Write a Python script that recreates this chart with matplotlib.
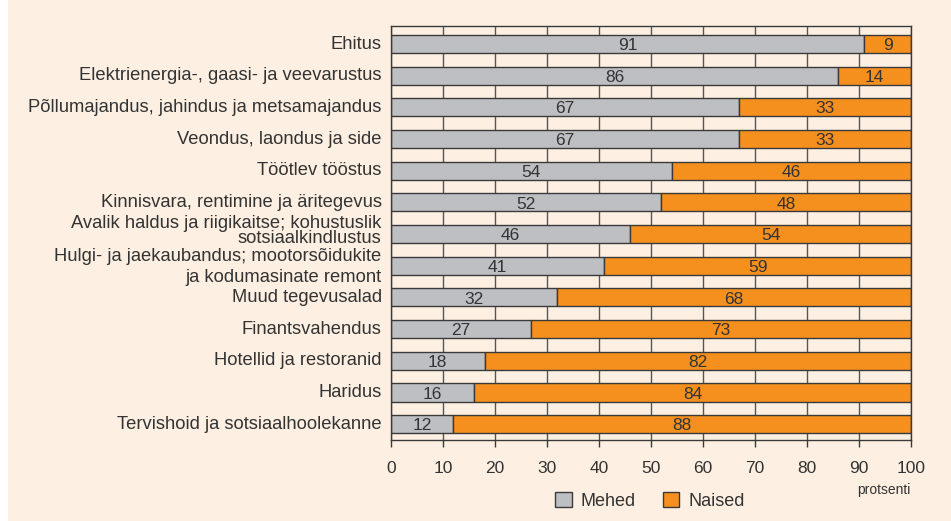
import numpy as np

import matplotlib
matplotlib.use('Agg')
import matplotlib.pyplot as plt
from matplotlib.patches import Patch, Rectangle

plt.rcParams['font.family'] = ['Liberation Sans', 'DejaVu Sans']

categories = [
    'Ehitus',
    'Elektrienergia-, gaasi- ja veevarustus',
    'Põllumajandus, jahindus ja metsamajandus',
    'Veondus, laondus ja side',
    'Töötlev tööstus',
    'Kinnisvara, rentimine ja äritegevus',
    'Avalik haldus ja riigikaitse; kohustuslik\nsotsiaalkindlustus',
    'Hulgi- ja jaekaubandus; mootorsõidukite\nja kodumasinate remont',
    'Muud tegevusalad',
    'Finantsvahendus',
    'Hotellid ja restoranid',
    'Haridus',
    'Tervishoid ja sotsiaalhoolekanne',
]
mehed = [91, 86, 67, 67, 54, 52, 46, 41, 32, 27, 18, 16, 12]
naised = [9, 14, 33, 33, 46, 48, 54, 59, 68, 73, 82, 84, 88]
x_ticks = [0, 10, 20, 30, 40, 50, 60, 70, 80, 90, 100]

bg = '#fdf0e2'
gray = '#bebfc3'
orange = '#f58f1e'
edge = '#3a3a3a'
text_col = '#333333'

fig = plt.figure(figsize=(9.51, 5.21), dpi=100, facecolor=bg)
fig.patches.append(Rectangle((0, 0), 8 / 951, 1, transform=fig.transFigure,
                             facecolor='white', edgecolor='none', zorder=0))
ax = fig.add_axes([391 / 951, 1 - 440 / 521, 520 / 951, 414 / 521])
ax.set_facecolor(bg)

y_pos = np.arange(len(categories))
h = 0.57
ax.barh(y_pos, mehed, height=h, color=gray, edgecolor=edge, linewidth=1.0, zorder=2)
ax.barh(y_pos, naised, left=mehed, height=h, color=orange, edgecolor=edge,
        linewidth=1.0, zorder=2)

for i in range(len(categories)):
    ax.text(mehed[i] / 2, y_pos[i] + 0.05, str(mehed[i]), ha='center', va='center',
            fontsize=12.5, color=text_col, zorder=3)
    ax.text(mehed[i] + naised[i] / 2, y_pos[i] + 0.05, str(naised[i]), ha='center',
            va='center', fontsize=12.5, color=text_col, zorder=3)

ax.set_xlim(0, 100)
ax.set_ylim(len(categories) - 0.5, -0.57)
ax.set_xticks(x_ticks)
ax.set_xticklabels([str(t) for t in x_ticks], fontsize=12.5, color=text_col)
ax.tick_params(axis='x', length=5, width=1, color=edge, pad=10)
ax.xaxis.grid(True, color='#555555', linewidth=1.0, zorder=1)
ax.set_axisbelow(True)

ax.set_yticks(y_pos)
ax.set_yticklabels([])
ax.tick_params(axis='y', length=0)
for i, lab in enumerate(categories):
    ls, dy = 0.82, 0.0
    if lab.startswith('Hulgi'):
        ls, dy = 1.3, 0.04
    elif lab.startswith('Avalik'):
        dy = -0.1
    ax.text(-0.018, y_pos[i] + dy, lab, transform=ax.get_yaxis_transform(),
            ha='right', va='center', fontsize=13.2, color=text_col,
            linespacing=ls, multialignment='right')

for s in ['left', 'right', 'top', 'bottom']:
    ax.spines[s].set_color(edge)
    ax.spines[s].set_linewidth(1.0)

ax.text(1.0, -0.105, 'protsenti', transform=ax.transAxes, ha='right', va='top',
        fontsize=10, color=text_col)

handles = [Patch(facecolor=gray, edgecolor=edge, label='Mehed'),
           Patch(facecolor=orange, edgecolor=edge, label='Naised')]
fig.legend(handles=handles, loc='center', bbox_to_anchor=(650 / 951, 1 - 501 / 521),
           ncol=2, frameon=False, fontsize=13, handlelength=0.9,
           handleheight=0.9, handletextpad=0.5, columnspacing=1.5,
           labelcolor=text_col)

plt.savefig('out.png', dpi=100, facecolor=bg)
plt.close()
